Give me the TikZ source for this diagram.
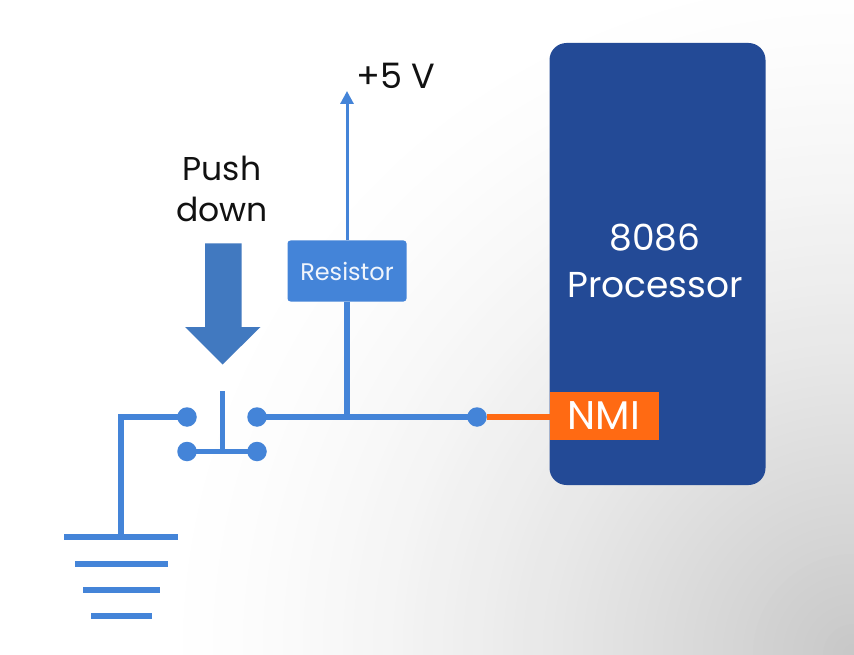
\documentclass[tikz,border=0pt]{standalone}
\usepackage{fontspec}
\setmainfont{Poppins}
\usetikzlibrary{arrows.meta}
\definecolor{wire}{HTML}{4484D8}
\definecolor{navy}{HTML}{234A96}
\definecolor{nmi}{HTML}{FF6A13}
\definecolor{pusharrow}{HTML}{4179C0}
\definecolor{ink}{HTML}{111111}
\tikzset{
  x=1pt,y=-1pt,
  wireline/.style={draw=wire,line width=6pt},
  gndbar/.style={fill=wire,draw=none},
  terminal/.style={circle,fill=wire,draw=none,minimum size=19.5pt,inner sep=0pt,outer sep=0pt},
  label/.style={text=ink,font=\fontsize{33}{42}\selectfont,inner sep=0pt,align=center},
}
\begin{document}
\begin{tikzpicture}
\useasboundingbox (0,0) rectangle (854,655);
\begin{scope}
\clip (0,0) rectangle (854,655);
\fill[white] (0,0) rectangle (854,655);
\foreach \r in {700,690,...,0}{
  \pgfmathsetmacro{\m}{100-22*(1-\r/700)^1.5}
  \fill[white!\m!black] (854,655) circle[radius=\r+1];
}
\end{scope}
% processor
\node[draw=none,fill=navy,rounded corners=17pt,minimum width=216pt,minimum height=442pt,inner sep=0pt,outer sep=0pt] (cpu) at (657.5,264) {};
\node[text=white,font=\fontsize{36}{48}\selectfont,align=center,inner sep=0pt] (cpulabel) at (655,261) {8086\\[-1pt]Processor};
% terminals
\node[terminal] (t1) at (187,417) {};
\node[terminal] (t2) at (257,417) {};
\node[terminal] (t3) at (187,451.5) {};
\node[terminal] (t4) at (257,451.5) {};
\node[terminal] (t5) at (477,417) {};
% NMI
\node[fill=nmi,minimum width=109pt,minimum height=48pt,inner sep=0pt,outer sep=0pt,text=white,font=\fontsize{40}{44}\selectfont] (nmi) at (604,416) {NMI};
\draw[draw=nmi,line width=6pt] (t5) -- (nmi.west |- t5);
% resistor
\node[fill=wire,rounded corners=3pt,minimum width=119pt,minimum height=61pt,inner sep=0pt,outer sep=0pt,text=white!92!wire,font=\fontsize{24}{30}\selectfont] (res) at (347,271) {Resistor};
\coordinate (junction) at (347,417);
\coordinate (gndtop) at (121,536);
\coordinate (corner) at (121,417);
\coordinate (plus) at (347,91);
\coordinate (pin) at (222,391);
\coordinate (pinfoot) at (222,451.5);
% wires
\draw[wireline] (t2.center) -- (t5.center);
\draw[wireline] (res.south -| junction) -- (junction);
\draw[wireline] (t1.center) -- (corner) -- (gndtop);
\draw[draw=wire,line width=5pt] (t3.center) -- (t4.center);
\draw[draw=wire,line width=5pt] (pin) -- (pinfoot);
\draw[draw=wire,line width=3pt,-{Triangle[length=13pt,width=13pt]}] (res.north -| plus) -- (plus);
% ground
\fill[gndbar] (64,534) rectangle (178,540);
\fill[gndbar] (75,560.5) rectangle (168,566.5);
\fill[gndbar] (82.5,586.5) rectangle (160,592.5);
\fill[gndbar] (90.5,612.5) rectangle (152,618.5);
% push arrow
\fill[pusharrow] (205,243.5) -- (241.5,243.5) -- (241.5,327) -- (260.5,327) -- (222.5,364.5) -- (185,327) -- (205,327) -- cycle;
% labels
\node[label] (push) at (222,189) {Push\\[-1pt]down};
\node[label,anchor=west,font=\fontsize{35}{44}\selectfont] (five) at (356,76) {+5 V};
\end{tikzpicture}
\end{document}
